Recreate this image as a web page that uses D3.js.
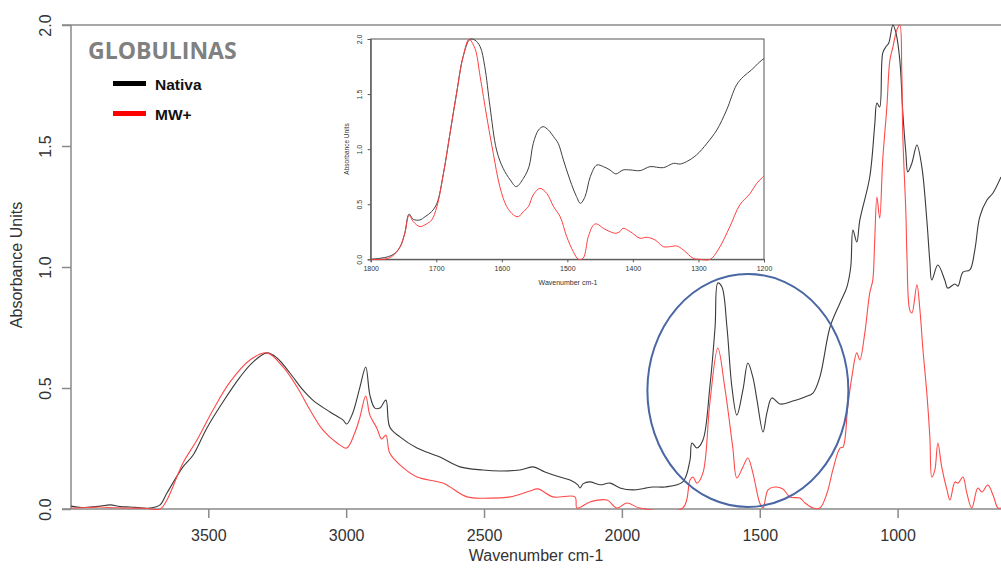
<!DOCTYPE html>
<html><head><meta charset="utf-8">
<script src="https://cdn.jsdelivr.net/npm/d3@7"></script>
<style>body{margin:0;background:#fff}svg{display:block}</style>
</head><body>
<svg id="c" width="1001" height="570"></svg>
<script>
// ---- data (wavenumber cm-1, absorbance) ----
const nativaMain = [[3998,0.012],[3960,0.006],[3929,0.008],[3890,0.012],[3856,0.017],[3820,0.01],[3784,0.008],[3745,0.005],[3711,0.004],[3675,0.017],[3650,0.066],[3592,0.174],[3555,0.223],[3505,0.335],[3447,0.442],[3385,0.545],[3338,0.607],[3287,0.645],[3251,0.624],[3204,0.562],[3157,0.492],[3121,0.45],[3059,0.401],[3012,0.368],[2998,0.351],[2976,0.397],[2950,0.504],[2929,0.587],[2914,0.471],[2896,0.417],[2878,0.417],[2856,0.45],[2842,0.339],[2805,0.298],[2743,0.252],[2660,0.215],[2587,0.174],[2504,0.161],[2442,0.157],[2370,0.161],[2323,0.174],[2279,0.153],[2225,0.132],[2188,0.12],[2160,0.1],[2152,0.087],[2140,0.105],[2116,0.112],[2080,0.1],[2043,0.107],[2007,0.087],[1960,0.079],[1920,0.085],[1888,0.091],[1844,0.091],[1779,0.112],[1753,0.202],[1746,0.273],[1728,0.252],[1706,0.285],[1681,0.504],[1662,0.752],[1652,0.934],[1637,0.917],[1619,0.752],[1601,0.504],[1583,0.388],[1561,0.492],[1543,0.603],[1525,0.545],[1510,0.45],[1488,0.318],[1474,0.397],[1456,0.459],[1427,0.434],[1380,0.446],[1336,0.463],[1307,0.479],[1282,0.545],[1245,0.752],[1209,0.851],[1184,0.917],[1170,1.0],[1162,1.153],[1148,1.103],[1137,1.194],[1101,1.372],[1083,1.587],[1075,1.678],[1065,1.661],[1054,1.884],[1043,1.909],[1032,1.926],[1017,2.0],[1006,1.967],[992,1.855],[981,1.636],[970,1.471],[963,1.393],[948,1.43],[930,1.504],[912,1.413],[894,1.194],[883,1.021],[876,0.946],[854,1.008],[829,0.946],[818,0.913],[792,0.93],[781,0.921],[763,0.979],[738,0.988],[720,1.07],[702,1.207],[676,1.277],[654,1.306],[625,1.372]];
const mwMain = [[3998,0.004],[3940,0.006],[3892,0.008],[3840,0.005],[3784,0.004],[3730,0.003],[3675,0],[3650,0.037],[3592,0.19],[3541,0.285],[3483,0.409],[3421,0.525],[3349,0.616],[3287,0.645],[3229,0.587],[3178,0.504],[3131,0.409],[3084,0.326],[3033,0.273],[2998,0.252],[2969,0.314],[2950,0.38],[2929,0.467],[2914,0.388],[2889,0.335],[2871,0.289],[2856,0.306],[2842,0.231],[2805,0.182],[2743,0.132],[2649,0.107],[2562,0.05],[2479,0.045],[2406,0.05],[2334,0.074],[2305,0.083],[2250,0.05],[2170,0.05],[2163,0.004],[2116,0.029],[2054,0.037],[2018,0.004],[1982,0.025],[1935,0.004],[1779,0.004],[1753,0.12],[1742,0.132],[1728,0.107],[1706,0.149],[1681,0.438],[1652,0.665],[1627,0.504],[1598,0.256],[1583,0.128],[1561,0.174],[1543,0.211],[1525,0.149],[1500,0.025],[1488,0.004],[1470,0.079],[1445,0.091],[1416,0.083],[1391,0.05],[1354,0.045],[1336,0.025],[1307,0.004],[1282,0.004],[1256,0.066],[1235,0.161],[1209,0.252],[1198,0.256],[1181,0.421],[1166,0.545],[1148,0.645],[1137,0.616],[1119,0.727],[1101,0.893],[1090,0.946],[1083,1.112],[1075,1.289],[1065,1.202],[1054,1.442],[1039,1.661],[1028,1.855],[1017,1.909],[1003,1.979],[992,2.0],[985,1.814],[981,1.537],[970,1.223],[966,1.041],[956,0.822],[948,0.81],[930,0.926],[919,0.822],[908,0.657],[894,0.479],[883,0.298],[876,0.132],[865,0.161],[854,0.273],[840,0.174],[821,0.079],[810,0.037],[792,0.112],[781,0.107],[763,0.132],[749,0.066],[731,0.004],[709,0.087],[694,0.07],[673,0.099],[654,0.058],[636,0.004],[625,0.004]];
const nativaInset = [[1800,0],[1786,0.009],[1773,0.024],[1763,0.054],[1755,0.115],[1748,0.236],[1741.5,0.41],[1735,0.363],[1725,0.357],[1717,0.387],[1707,0.433],[1699,0.508],[1689,0.78],[1679,1.144],[1669,1.507],[1659,1.84],[1648.5,1.997],[1641,1.99],[1633,1.93],[1626,1.75],[1618,1.386],[1608,0.992],[1598,0.826],[1587,0.72],[1578,0.66],[1567,0.735],[1558.5,0.841],[1552,1.053],[1544,1.174],[1537,1.204],[1529,1.174],[1521,1.113],[1514,1.053],[1506,0.902],[1496,0.72],[1486,0.569],[1480,0.508],[1473,0.569],[1465,0.75],[1455,0.856],[1445,0.841],[1435,0.811],[1426,0.775],[1415,0.811],[1404,0.811],[1389,0.805],[1374,0.841],[1353.5,0.832],[1338,0.871],[1328,0.865],[1318,0.887],[1303,0.947],[1287,1.053],[1272,1.174],[1257,1.356],[1242,1.582],[1231.5,1.658],[1219,1.719],[1209,1.779],[1200,1.824]];
const mwInset = [[1800,0],[1781,0],[1768,0.024],[1755,0.115],[1748,0.236],[1741.5,0.40],[1735,0.342],[1725,0.297],[1715,0.321],[1707,0.357],[1699,0.478],[1689,0.78],[1679,1.144],[1669,1.507],[1659,1.84],[1650,1.997],[1641,1.915],[1633,1.658],[1623,1.295],[1613,0.962],[1603,0.66],[1592.5,0.478],[1582,0.402],[1575,0.387],[1567,0.433],[1559.5,0.478],[1552,0.584],[1542,0.644],[1531.5,0.599],[1521,0.478],[1511,0.387],[1501,0.206],[1491,0.07],[1483,0],[1476,0.009],[1468,0.206],[1460,0.312],[1455,0.321],[1445,0.281],[1435,0.251],[1426,0.236],[1420,0.251],[1415,0.281],[1404,0.251],[1389,0.191],[1379,0.2],[1366,0.175],[1353.5,0.115],[1343,0.115],[1333,0.121],[1323,0.085],[1308,0.009],[1298,0],[1282,0],[1270,0.085],[1252,0.297],[1237,0.493],[1221,0.599],[1211,0.69],[1200,0.756]];
const xTicks = [3500,3000,2500,2000,1500,1000];
const yTicks = [0,0.5,1.0,1.5,2.0];
const insetXTicks = [1800,1700,1600,1500,1400,1300,1200];
const insetYTicks = [0,0.5,1.0,1.5,2.0];
const seriesNames = ["Nativa","MW+"];
const titleText = "GLOBULINAS";

// ---- drawing ----
const svg = d3.select("#c");
const axisCol = "#8a8a8a", txtCol = "#333";
const x = d3.scaleLinear().domain([3998,625]).range([71,1001]);
const y = d3.scaleLinear().domain([0,2]).range([509,25]);

svg.append("defs").append("clipPath").attr("id","clipMain")
  .append("rect").attr("x",71).attr("y",24).attr("width",930).attr("height",486);

svg.append("line").attr("x1",62).attr("x2",1001).attr("y1",y(2)).attr("y2",y(2))
  .attr("stroke",axisCol).attr("stroke-width",1.5);

const gx = svg.append("g").attr("transform",`translate(0,${y(0)})`)
  .call(d3.axisBottom(x).tickValues(xTicks).tickSize(9).tickPadding(12).tickFormat(d3.format("d")));
gx.select(".domain").attr("d",`M62,0H1001`);
const gy = svg.append("g").attr("transform",`translate(71,0)`)
  .call(d3.axisLeft(y).tickValues(yTicks).tickSize(9).tickPadding(0).tickFormat(d3.format(".1f")));
[gx,gy].forEach(g=>{
  g.select(".domain").attr("stroke",axisCol).attr("stroke-width",1.5);
  g.selectAll(".tick line").attr("stroke",axisCol).attr("stroke-width",1.5);
  g.selectAll("text").attr("fill",txtCol).attr("font-family","Liberation Sans, Arial, sans-serif").attr("font-size",16);
});
gy.select(".domain").attr("d",`M0,${y(2)}V${y(0)}`);
gy.selectAll(".tick text").attr("x",null).attr("dy",null)
  .attr("text-anchor","middle").attr("transform","translate(-26,0) rotate(-90)").attr("dy","0.35em");

svg.append("text").attr("x",536).attr("y",561).attr("text-anchor","middle")
  .attr("font-family","Liberation Sans, Arial, sans-serif").attr("font-size",16).attr("fill",txtCol)
  .text("Wavenumber cm-1");
svg.append("text").attr("transform","translate(22,265) rotate(-90)").attr("text-anchor","middle")
  .attr("font-family","Liberation Sans, Arial, sans-serif").attr("font-size",16).attr("fill",txtCol)
  .text("Absorbance Units");

const line = d3.line().x(d=>x(d[0])).y(d=>y(d[1])).curve(d3.curveCatmullRom.alpha(0.5));
const gm = svg.append("g").attr("clip-path","url(#clipMain)");
gm.append("path").datum(nativaMain).attr("d",line).attr("fill","none").attr("stroke","#3a3a3a").attr("stroke-width",1.1);
gm.append("path").datum(mwMain).attr("d",line).attr("fill","none").attr("stroke","#ff4a4a").attr("stroke-width",1.1);

// title & legend
svg.append("text").attr("x",88).attr("y",59).attr("font-family","Open Sans, sans-serif").attr("font-weight","bold")
  .attr("font-size",23).attr("fill","#808080").text(titleText);
const legCols = ["#000","#ff0000"];
seriesNames.forEach((n,i)=>{
  const yy = 83.5 + i*30;
  svg.append("line").attr("x1",113).attr("x2",146).attr("y1",yy).attr("y2",yy).attr("stroke",legCols[i]).attr("stroke-width",5);
  svg.append("text").attr("x",155).attr("y",yy+6).attr("font-family","Liberation Sans, Arial, sans-serif")
    .attr("font-weight","bold").attr("font-size",15.5).attr("fill","#111").text(n);
});

// inset
const ix = d3.scaleLinear().domain([1800,1200]).range([370.7,764]);
const iy = d3.scaleLinear().domain([0,2]).range([259.3,39]);
const gi = svg.append("g");
gi.append("rect").attr("x",370.7).attr("y",39).attr("width",764-370.7).attr("height",259.3-39)
  .attr("fill","#fff").attr("stroke","#555").attr("stroke-width",1);
const gix = gi.append("g").attr("transform",`translate(0,259.3)`)
  .call(d3.axisBottom(ix).tickValues(insetXTicks).tickSize(3).tickPadding(4).tickFormat(d3.format("d")));
const giy = gi.append("g").attr("transform",`translate(370.7,0)`)
  .call(d3.axisLeft(iy).tickValues(insetYTicks).tickSize(3).tickPadding(0).tickFormat(d3.format(".1f")));
[gix,giy].forEach(g=>{
  g.select(".domain").attr("stroke","#555");
  g.selectAll(".tick line").attr("stroke","#555");
  g.selectAll("text").attr("fill","#333").attr("font-family","Liberation Sans, Arial, sans-serif").attr("font-size",7);
});
giy.selectAll(".tick text").attr("x",null).attr("dy",null)
  .attr("text-anchor","middle").attr("transform","translate(-11,0) rotate(-90)").attr("dy","0.35em");
gi.append("text").attr("x",568).attr("y",285).attr("text-anchor","middle")
  .attr("font-family","Liberation Sans, Arial, sans-serif").attr("font-size",7).attr("fill","#333").text("Wavenumber cm-1");
gi.append("text").attr("transform","translate(349,149) rotate(-90)").attr("text-anchor","middle")
  .attr("font-family","Liberation Sans, Arial, sans-serif").attr("font-size",6.5).attr("fill","#333").text("Absorbance Units");
const iline = d3.line().x(d=>ix(d[0])).y(d=>iy(d[1])).curve(d3.curveCatmullRom.alpha(0.5));
gi.append("path").datum(nativaInset).attr("d",iline).attr("fill","none").attr("stroke","#404040").attr("stroke-width",1);
gi.append("path").datum(mwInset).attr("d",iline).attr("fill","none").attr("stroke","#ff4040").attr("stroke-width",1);

// highlight ellipse
svg.append("ellipse").attr("cx",x(1543)).attr("cy",y(0.49)).attr("rx",100.5).attr("ry",116.5)
  .attr("fill","none").attr("stroke","#4a67a4").attr("stroke-width",2);
</script>
</body></html>
